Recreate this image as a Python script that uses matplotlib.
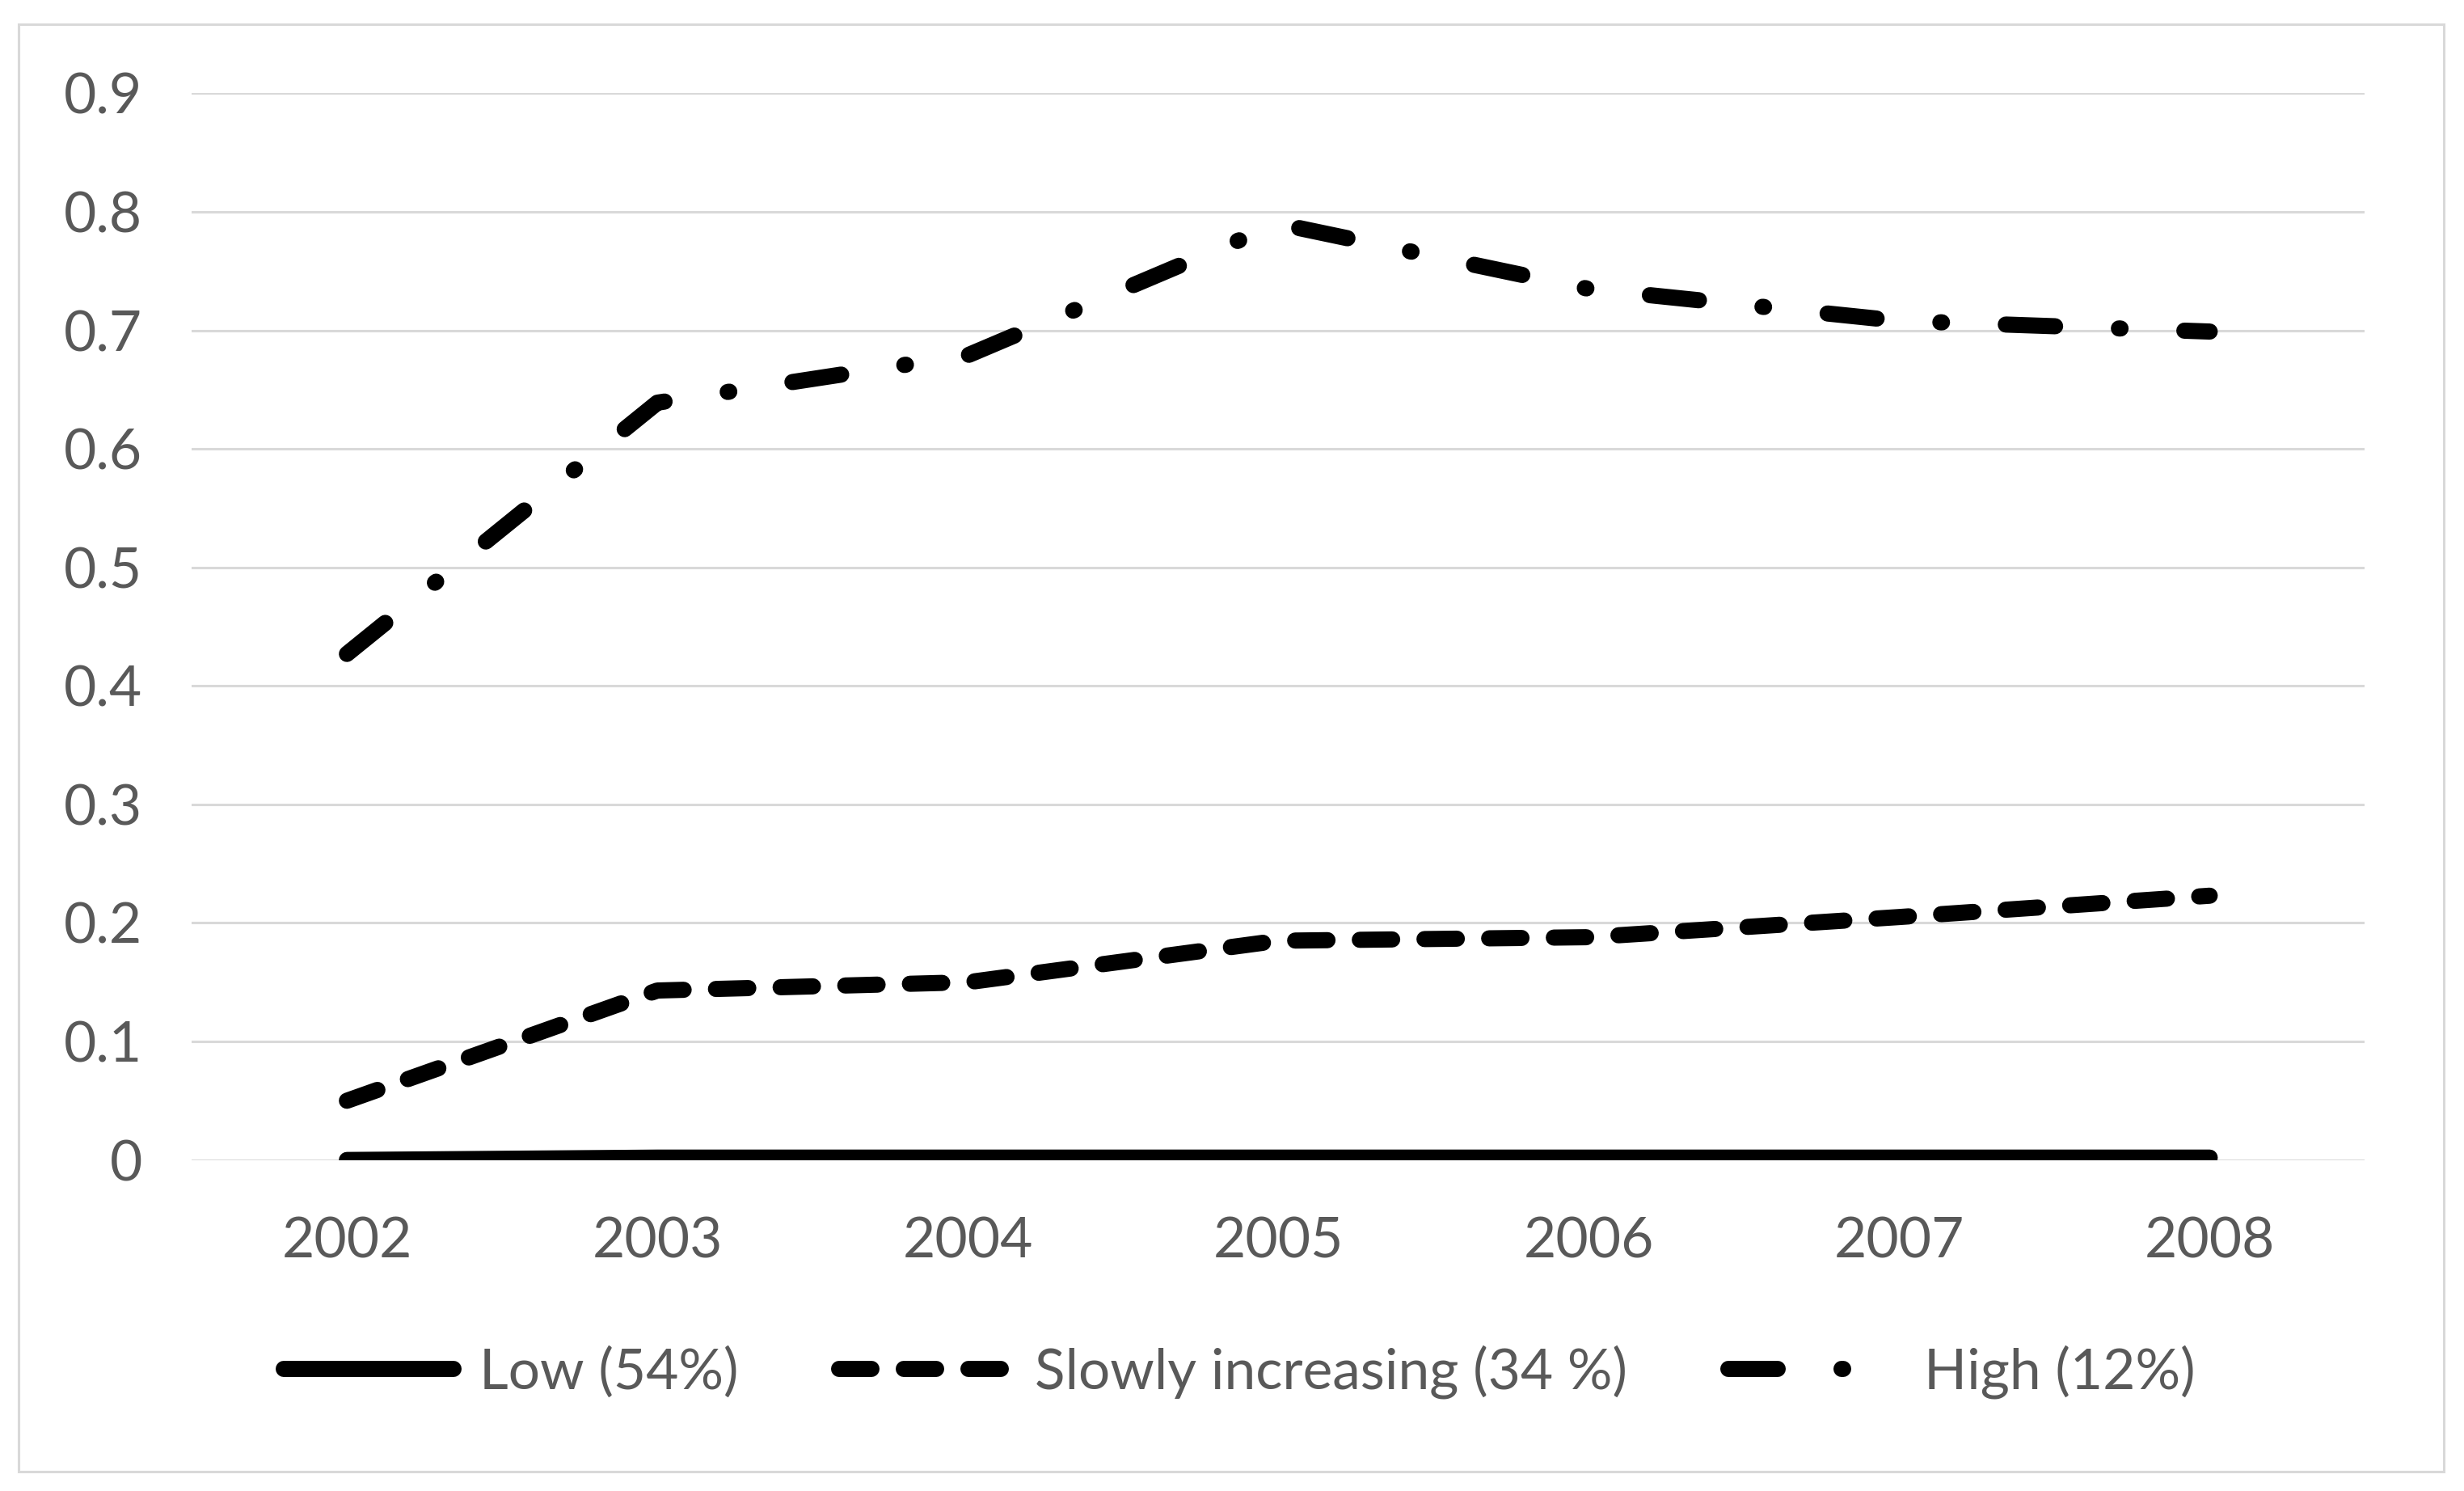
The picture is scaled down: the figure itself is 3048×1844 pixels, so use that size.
import matplotlib.pyplot as plt
from matplotlib.patches import Rectangle

# Data
years = ['2002', '2003', '2004', '2005', '2006', '2007', '2008']
low = [0.0, 0.002, 0.002, 0.002, 0.002, 0.002, 0.002]
slowly = [0.05, 0.143, 0.150, 0.185, 0.188, 0.205, 0.223]
high = [0.427, 0.639, 0.679, 0.790, 0.735, 0.708, 0.699]
yticks = [0, 0.1, 0.2, 0.3, 0.4, 0.5, 0.6, 0.7, 0.8, 0.9]
ytick_labels = ['0', '0.1', '0.2', '0.3', '0.4', '0.5', '0.6', '0.7', '0.8', '0.9']

plt.rcParams['font.family'] = ['Lato', 'DejaVu Sans']
text_color = '#595959'
grid_color = '#d9d9d9'
lw = 7.2
fs = 25

fig = plt.figure(figsize=(15.24, 9.22), dpi=200)
ax = fig.add_axes([0.0778, 0.222, 0.882, 0.7154])

x = list(range(len(years)))
ax.plot(x, low, color='black', linewidth=lw, solid_capstyle='round',
        label='Low (54%)', zorder=3)
ax.plot(x, slowly, color='black', linewidth=lw, linestyle=(0, (2.0, 2.0)),
        dash_capstyle='round', label='Slowly increasing (34 %)', zorder=3)
ax.plot(x, high, color='black', linewidth=lw, linestyle=(0, (3.05, 3.95, 0.1, 3.95)),
        dash_capstyle='round', label='High (12%)', zorder=3)

ax.set_xlim(-0.5, 6.5)
ax.set_ylim(0, 0.9)
ax.set_xticks(x)
ax.set_xticklabels(years)
ax.set_yticks(yticks)
ax.set_yticklabels(ytick_labels)
ax.tick_params(axis='both', length=0, labelsize=fs, labelcolor=text_color)
ax.tick_params(axis='y', pad=22)
ax.tick_params(axis='x', pad=25)
ax.grid(axis='y', color=grid_color, linewidth=1.1, zorder=0)
for side in ['top', 'right', 'left', 'bottom']:
    ax.spines[side].set_visible(False)
ax.set_axisbelow(True)

leg = fig.legend(loc='center', bbox_to_anchor=(0.503, 0.080), ncol=3, frameon=False,
                 fontsize=fs, handlelength=3.03, handletextpad=0.45, columnspacing=1.8)
for t in leg.get_texts():
    t.set_color(text_color)

# chart border
fig.patches.append(Rectangle((0.0077, 0.013), 0.984, 0.971, transform=fig.transFigure,
                             fill=False, edgecolor=grid_color, linewidth=1.1))

fig.savefig('out.png', dpi=200)
